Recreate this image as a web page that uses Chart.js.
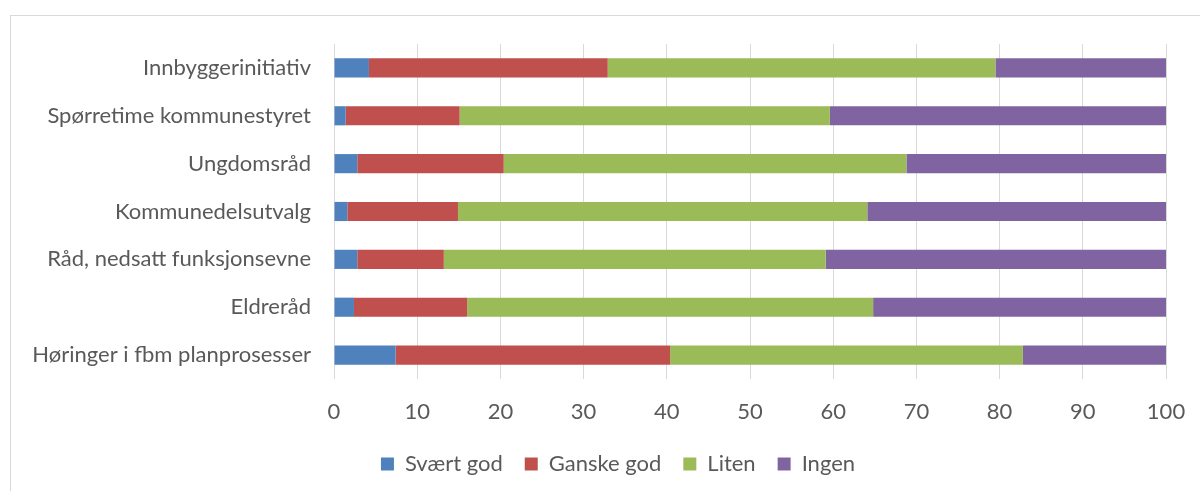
<!DOCTYPE html>
<html>
<head>
<meta charset="utf-8">
<script src="https://cdn.jsdelivr.net/npm/chart.js@4.4.1/dist/chart.umd.min.js"></script>
<style>
  html, body { margin: 0; padding: 0; background: #fff; }
  #frame {
    position: absolute; left: 10px; top: 15px; width: 1210px; height: 500px;
    border: 1px solid #d9d9d9; box-sizing: border-box;
  }
  #wrap { position: absolute; left: 0; top: 0; width: 1200px; height: 491px; }
</style>
</head>
<body>
<div id="frame"></div>
<div id="wrap"><canvas id="chart"></canvas></div>
<script>
const categories = [
  'Innbyggerinitiativ',
  'Spørretime kommunestyret',
  'Ungdomsråd',
  'Kommunedelsutvalg',
  'Råd, nedsatt funksjonsevne',
  'Eldreråd',
  'Høringer i fbm planprosesser'
]

const svaertGod = [4.2, 1.4, 2.8, 1.6, 2.8, 2.4, 7.4]
const ganskeGod = [28.7, 13.7, 17.6, 13.3, 10.4, 13.6, 33.0]
const liten = [46.6, 44.5, 48.4, 49.2, 45.9, 48.8, 42.4]
const ingen = [20.5, 40.4, 31.2, 35.9, 40.9, 35.2, 17.2]

const xTicks = [0, 10, 20, 30, 40, 50, 60, 70, 80, 90, 100]

const COLORS = {
  blue: '#4F81BD',
  red: '#C0504D',
  green: '#9BBB59',
  purple: '#8064A2'
}

const FONT = 'Lato, "Open Sans", sans-serif'
const TEXT = '#595959'

// nudge the legend to the right, like the original
const legendShift = {
  id: 'legendShift',
  afterLayout(chart) {
    chart.legend.left += 35
    chart.legend.right += 35
  }
}

const data = {
  labels: categories,
  datasets: [
    { label: 'Svært god', data: svaertGod, backgroundColor: COLORS.blue },
    { label: 'Ganske god', data: ganskeGod, backgroundColor: COLORS.red },
    { label: 'Liten', data: liten, backgroundColor: COLORS.green },
    { label: 'Ingen', data: ingen, backgroundColor: COLORS.purple }
  ]
}

const config = {
  type: 'bar',
  data: data,
  plugins: [legendShift],
  options: {
    indexAxis: 'y',
    responsive: false,
    animation: false,
    maintainAspectRatio: false,
    datasets: {
      bar: { barPercentage: 0.8, categoryPercentage: 0.5, borderWidth: 0 }
    },
    layout: { padding: { top: 44, right: 34, bottom: 6, left: 0 } },
    scales: {
      x: {
        stacked: true,
        min: 0,
        max: 100,
        afterBuildTicks: (axis) => { axis.ticks = xTicks.map(v => ({ value: v })) },
        afterFit: (axis) => {
          axis.height = 52
          axis.paddingLeft = 0
          axis.paddingRight = 0
        },
        grid: { color: '#d9d9d9', lineWidth: 1, drawTicks: false },
        border: { display: false },
        ticks: { color: TEXT, font: { family: FONT, size: 22 }, padding: 20 }
      },
      y: {
        stacked: true,
        afterFit: (axis) => { axis.width = 334 },
        grid: { display: false, drawTicks: false },
        border: { display: false },
        ticks: { color: TEXT, font: { family: FONT, size: 22 }, padding: 23 }
      }
    },
    plugins: {
      legend: {
        position: 'bottom',
        labels: {
          color: TEXT,
          font: { family: FONT, size: 22 },
          boxWidth: 13,
          boxHeight: 13,
          padding: 22
        }
      },
      tooltip: { enabled: false }
    }
  }
}

const canvas = document.getElementById('chart')
canvas.width = 1200
canvas.height = 491
const myChart = new Chart(canvas, config)
</script>
</body>
</html>
